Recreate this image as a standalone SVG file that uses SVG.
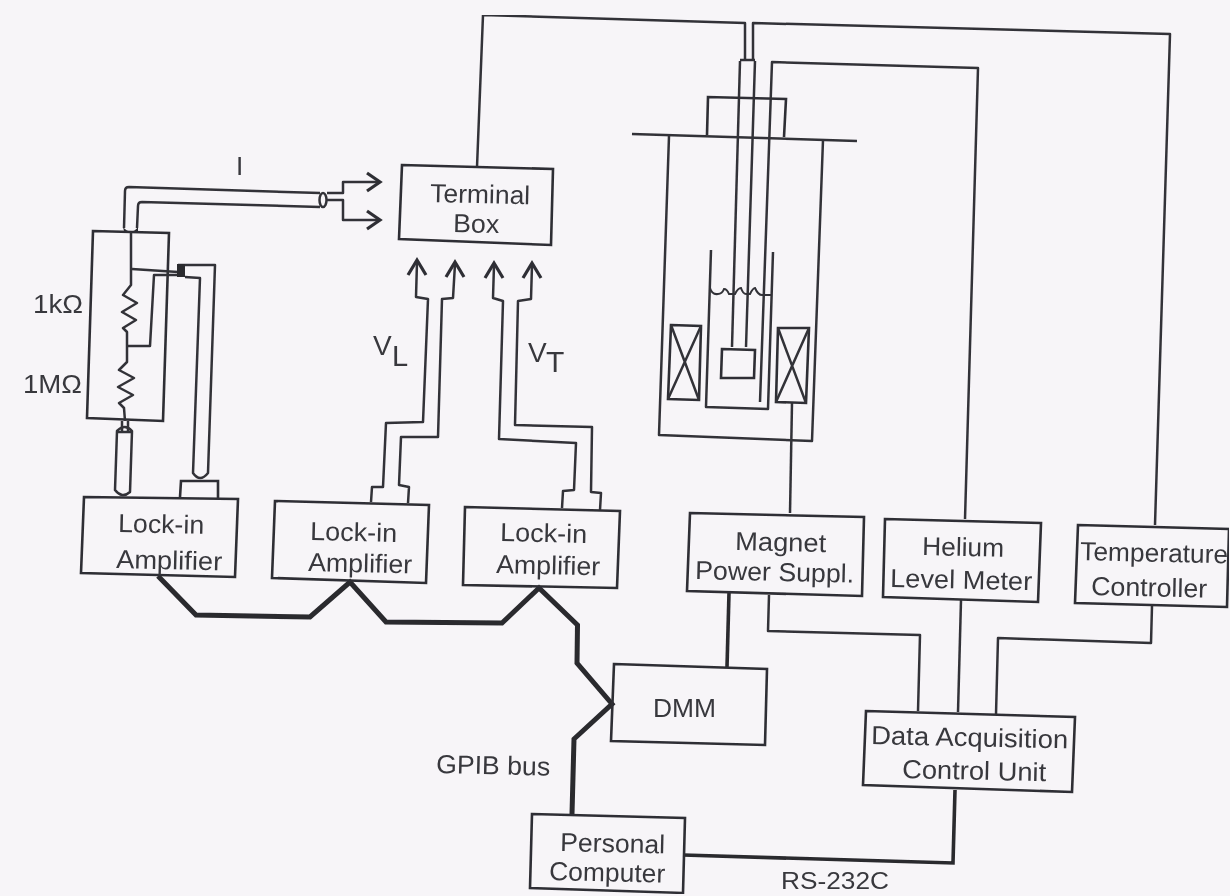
<svg xmlns="http://www.w3.org/2000/svg" width="1230" height="896" viewBox="0 0 1230 896">
<style>
.b{fill:none;stroke:#2f2f34;stroke-width:2.6;stroke-linejoin:miter}
.w{fill:none;stroke:#333338;stroke-width:2.5;stroke-linejoin:round}
.t{fill:none;stroke:#29292d;stroke-width:5;stroke-linejoin:miter}
.m{fill:none;stroke:#29292d;stroke-width:3.6}
text{font-family:"Liberation Sans",Arial,sans-serif;font-size:26px;fill:#38383d}
</style>
<defs>
<filter id="soft" x="0" y="0" width="100%" height="100%"><feGaussianBlur stdDeviation="0.45"/></filter>
<path id="h" d="M-9,15 L0,0 L9,15" fill="none" stroke="#2f2f34" stroke-width="3.2"/>
<path id="hr" d="M-13,-9 L0,0 L-13,9" fill="none" stroke="#2f2f34" stroke-width="3.2"/>
</defs>
<rect width="1230" height="896" fill="#f7f5f8"/>
<g filter="url(#soft)">
<g id="connectors">
<path class="w" d="M477,167 L483,15 L745,23 L745,60"/>
<path class="w" d="M753,60 L753,23 L1170,34 L1155,525"/>
<path class="w" d="M760,402 L772,62 L978,68 L965,519"/>
<path class="w" d="M792,403 L790,513"/>
<path class="t" d="M158,576 L196,615 L310,617 L350,582 L386,622 L502,623 L539,588 L577.500,625 L577,663 L612,704 L574,739 L572,814"/>
<path class="m" d="M683,855 L953,863 L955,790"/>
<path class="m" d="M729,593 L727,667"/>
<path class="w" d="M769,595 L768,631 L920,635 L918,711"/>
<path class="w" d="M961,600 L958,712"/>
<path class="w" d="M1152,606 L1151,643 L998,638 L996,714"/>
<path class="w" d="M417,262 L416,297 L428,299 L423,422 L386,423 L383,487 L372,487 L371,502"/>
<path class="w" d="M455,264 L453,298 L442,299 L438,437 L401,437 L399,485 L409,487 L408,503"/>
<path class="w" d="M494,265 L493,298 L503,301 L499,439 L576,443 L574,490 L563,491 L562,508"/>
<path class="w" d="M532,265 L531,299 L518,301 L515,425 L592,427 L591,492 L601,493 L600,510"/>
<use href="#h" x="417" y="260"/><use href="#h" x="455" y="262"/><use href="#h" x="494" y="263"/><use href="#h" x="532" y="263"/>
<path class="w" d="M124,228 L125,191 Q125,187 129,187 L320,193"/>
<path class="w" d="M137,228 L138,206 Q138,202 142,202 L320,207"/>
<path class="w" d="M327,193 L343,193 L343,182 L378,182"/>
<path class="w" d="M327,200 L343,200 L343,220 L378,220"/>
<use href="#hr" x="380" y="182"/><use href="#hr" x="380" y="220"/>
<path d="M123,227 Q131,236 138,227 L138,231 L124,231Z" fill="#29292d"/>
</g>
<g id="cable-cap">
<ellipse class="w" cx="323" cy="200" rx="3.500" ry="7"/>
</g>
<g id="resistors">
<path class="b" d="M93,231 L169,233 L163,421 L87,418Z"/>
<path class="w" d="M131,232 L131,285 L123,295 L137,303 L122,312 L136,320 L123,328 L127,332 L127,362 L119,370 L134,378 L118,387 L133,395 L119,403 L124,408 L125,421"/>
<path class="w" d="M132,269 L178,272"/>
<path class="w" d="M127,346 L150,346 L154,275 L178,275"/>
<text x="33" y="313" textLength="50" lengthAdjust="spacingAndGlyphs">1kΩ</text>
<text x="23" y="393" textLength="59" lengthAdjust="spacingAndGlyphs">1MΩ</text>
</g>
<g id="shield-cables">
<path class="w" d="M117,431 L115,490 Q122,499 130,492 L132,431 Q125,423 117,431Z"/>
<path class="w" d="M117,432 L132,432 M122,421 L122,431 M128,421 L128,431"/>
<path class="w" d="M178,265 L215,265 L208,473 Q200,483 193,473 L200,278 L185,277"/>
<rect x="177" y="264" width="8" height="13" fill="#29292d"/>
<path class="b" d="M180,497 L181,481 L218,481 L218,498"/>
</g>
<g id="cryostat">
<path class="w" d="M740,61 L732,347"/>
<path class="w" d="M755,61 L746,347"/>
<path class="w" d="M740,60 L755,60"/>
<path class="b" d="M707,135 L708,97 L786,99 L784,137"/>
<path class="w" d="M632,134 L857,141"/>
<path class="w" d="M669,136 L659,435 L812,441 L823,140"/>
<path class="w" d="M711,250 L706,407 L768,409 L773,252"/>
<path d="M710,288 Q712,295 718,294 Q722,294 724,289 Q727,289 729,294 L735,294 Q738,288 741,288 Q743,294 746,294 L750,294 Q753,288 755,288 Q758,295 762,295 L772,295" fill="none" stroke="#333338" stroke-width="2"/>
<path class="b" d="M722,349 L755,350 L754,378 L721,378Z"/>
<path class="b" d="M671,325 L701,326 L699,400 L668,399Z"/>
<path class="w" d="M671,325 L699,400 M701,326 L668,399"/>
<path class="b" d="M778,328 L809,328 L806,403 L776,402Z"/>
<path class="w" d="M778,328 L806,403 M809,328 L776,402"/>
</g>
<g id="terminal-box">
<path class="b" d="M402,165 L553,169 L551,245 L399,239Z"/>
<text x="430" y="202" textLength="100" lengthAdjust="spacingAndGlyphs" transform="rotate(1.300 430 202)">Terminal</text>
<text x="453" y="232" textLength="46" lengthAdjust="spacingAndGlyphs" transform="rotate(1.300 453 232)">Box</text>
</g>
<g id="lockin-1">
<path class="b" d="M84,497 L238,499 L235,577 L81,573Z"/>
<text x="118" y="532" textLength="86" lengthAdjust="spacingAndGlyphs" transform="rotate(1.300 118 532)">Lock-in</text>
<text x="116" y="568" textLength="106" lengthAdjust="spacingAndGlyphs" transform="rotate(1.300 116 568)">Amplifier</text>
</g>
<g id="lockin-2">
<path class="b" d="M275,501 L429,505 L426,583 L272,578Z"/>
<text x="310" y="540" textLength="87" lengthAdjust="spacingAndGlyphs" transform="rotate(1.300 310 540)">Lock-in</text>
<text x="308" y="571" textLength="104" lengthAdjust="spacingAndGlyphs" transform="rotate(1.300 308 571)">Amplifier</text>
</g>
<g id="lockin-3">
<path class="b" d="M465,507 L620,511 L617,588 L463,585Z"/>
<text x="500" y="541" textLength="87" lengthAdjust="spacingAndGlyphs" transform="rotate(1.300 500 541)">Lock-in</text>
<text x="496" y="573" textLength="104" lengthAdjust="spacingAndGlyphs" transform="rotate(1.300 496 573)">Amplifier</text>
</g>
<g id="magnet-power">
<path class="b" d="M690,513 L864,517 L862,596 L687,591Z"/>
<text x="735" y="550" textLength="91" lengthAdjust="spacingAndGlyphs" transform="rotate(1.300 735 550)">Magnet</text>
<text x="695" y="579" textLength="159" lengthAdjust="spacingAndGlyphs" transform="rotate(1.300 695 579)">Power Suppl.</text>
</g>
<g id="helium-meter">
<path class="b" d="M885,519 L1041,523 L1038,602 L883,597Z"/>
<text x="922" y="555" textLength="82" lengthAdjust="spacingAndGlyphs" transform="rotate(1.300 922 555)">Helium</text>
<text x="890" y="587" textLength="142" lengthAdjust="spacingAndGlyphs" transform="rotate(1.300 890 587)">Level Meter</text>
</g>
<g id="temperature-controller">
<path class="b" d="M1078,525 L1229,529 L1227,607 L1075,603Z"/>
<text x="1080" y="560" textLength="148" lengthAdjust="spacingAndGlyphs" transform="rotate(1.300 1080 560)">Temperature</text>
<text x="1091" y="595" textLength="116" lengthAdjust="spacingAndGlyphs" transform="rotate(1.300 1091 595)">Controller</text>
</g>
<g id="dmm">
<path class="b" d="M614,664 L767,669 L765,745 L611,741Z"/>
<text x="653" y="717" textLength="63" lengthAdjust="spacingAndGlyphs">DMM</text>
</g>
<g id="daq">
<path class="b" d="M866,711 L1075,717 L1072,792 L863,785Z"/>
<text x="871" y="744" textLength="197" lengthAdjust="spacingAndGlyphs" transform="rotate(1.300 871 744)">Data Acquisition</text>
<text x="902" y="778" textLength="144" lengthAdjust="spacingAndGlyphs" transform="rotate(1.300 902 778)">Control Unit</text>
</g>
<g id="computer">
<path class="b" d="M532,814 L685,818 L683,893 L530,888Z"/>
<text x="560" y="851" textLength="105" lengthAdjust="spacingAndGlyphs" transform="rotate(1.300 560 851)">Personal</text>
<text x="549" y="880" textLength="116" lengthAdjust="spacingAndGlyphs" transform="rotate(1.300 549 880)">Computer</text>
</g>
<g id="labels">
<text x="436" y="773" textLength="114" lengthAdjust="spacingAndGlyphs" transform="rotate(1.300 436 773)">GPIB bus</text>
<text x="781" y="889" textLength="108" lengthAdjust="spacingAndGlyphs" style="font-size:24px">RS-232C</text>
<text x="236" y="175">I</text>
<text x="373" y="355" style="font-size:28px">V</text>
<text x="392" y="366" style="font-size:29px">L</text>
<text x="528" y="362" style="font-size:28px">V</text>
<text x="546" y="372" style="font-size:30px">T</text>
</g>
</g>
</svg>
